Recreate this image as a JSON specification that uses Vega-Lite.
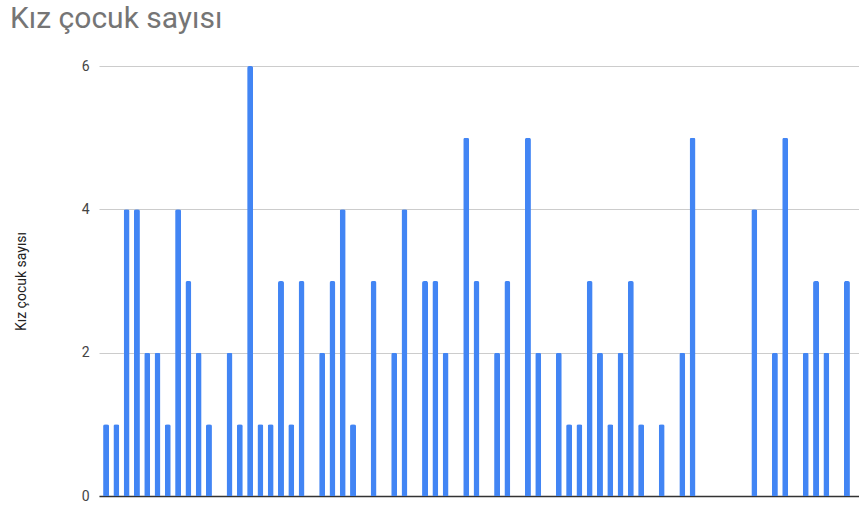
{
  "$schema": "https://vega.github.io/schema/vega-lite/v6.json",
  "width": 760,
  "height": 430,
  "autosize": {"type": "none"},
  "padding": {"left": 99, "top": 66, "right": 0, "bottom": 11},
  "background": "white",
  "title": {
    "text": "Kız çocuk sayısı",
    "anchor": "start",
    "frame": "group",
    "dx": -89,
    "offset": 1,
    "baseline": "alphabetic",
    "font": "Roboto",
    "fontSize": 30,
    "fontWeight": "normal",
    "color": "#757575"
  },
  "data": {
    "values": [
      {"i": 1, "v": 1}, {"i": 2, "v": 1}, {"i": 3, "v": 4}, {"i": 4, "v": 4}, {"i": 5, "v": 2},
      {"i": 6, "v": 2}, {"i": 7, "v": 1}, {"i": 8, "v": 4}, {"i": 9, "v": 3}, {"i": 10, "v": 2},
      {"i": 11, "v": 1}, {"i": 12, "v": 0}, {"i": 13, "v": 2}, {"i": 14, "v": 1}, {"i": 15, "v": 6},
      {"i": 16, "v": 1}, {"i": 17, "v": 1}, {"i": 18, "v": 3}, {"i": 19, "v": 1}, {"i": 20, "v": 3},
      {"i": 21, "v": 0}, {"i": 22, "v": 2}, {"i": 23, "v": 3}, {"i": 24, "v": 4}, {"i": 25, "v": 1},
      {"i": 26, "v": 0}, {"i": 27, "v": 3}, {"i": 28, "v": 0}, {"i": 29, "v": 2}, {"i": 30, "v": 4},
      {"i": 31, "v": 0}, {"i": 32, "v": 3}, {"i": 33, "v": 3}, {"i": 34, "v": 2}, {"i": 35, "v": 0},
      {"i": 36, "v": 5}, {"i": 37, "v": 3}, {"i": 38, "v": 0}, {"i": 39, "v": 2}, {"i": 40, "v": 3},
      {"i": 41, "v": 0}, {"i": 42, "v": 5}, {"i": 43, "v": 2}, {"i": 44, "v": 0}, {"i": 45, "v": 2},
      {"i": 46, "v": 1}, {"i": 47, "v": 1}, {"i": 48, "v": 3}, {"i": 49, "v": 2}, {"i": 50, "v": 1},
      {"i": 51, "v": 2}, {"i": 52, "v": 3}, {"i": 53, "v": 1}, {"i": 54, "v": 0}, {"i": 55, "v": 1},
      {"i": 56, "v": 0}, {"i": 57, "v": 2}, {"i": 58, "v": 5}, {"i": 59, "v": 0}, {"i": 60, "v": 0},
      {"i": 61, "v": 0}, {"i": 62, "v": 0}, {"i": 63, "v": 0}, {"i": 64, "v": 4}, {"i": 65, "v": 0},
      {"i": 66, "v": 2}, {"i": 67, "v": 5}, {"i": 68, "v": 0}, {"i": 69, "v": 2}, {"i": 70, "v": 3},
      {"i": 71, "v": 2}, {"i": 72, "v": 0}, {"i": 73, "v": 3}
    ]
  },
  "mark": {"type": "bar", "color": "#4285F4", "cornerRadiusTopLeft": 2, "cornerRadiusTopRight": 2},
  "encoding": {
    "x": {
      "field": "i",
      "type": "ordinal",
      "sort": null,
      "scale": {"paddingInner": 0.42, "paddingOuter": 0.64, "align": 0.31},
      "axis": {
        "labels": false,
        "ticks": false,
        "title": null,
        "domainColor": "#333333",
        "domainWidth": 1.5,
        "grid": false
      }
    },
    "y": {
      "field": "v",
      "type": "quantitative",
      "scale": {"domain": [0, 6], "nice": false},
      "axis": {
        "values": [0, 2, 4, 6],
        "title": "Kız çocuk sayısı",
        "titleFont": "Roboto",
        "titleFontSize": 14,
        "titleFontWeight": "normal",
        "titleColor": "#222222",
        "titleX": -78,
        "titleY": 215,
        "titleAngle": -90,
        "titleBaseline": "middle",
        "titleAlign": "center",
        "labelFont": "Roboto",
        "labelFontSize": 14,
        "labelColor": "#444444",
        "labelPadding": 10,
        "ticks": false,
        "domain": false,
        "grid": true,
        "gridColor": "#cccccc",
        "gridWidth": 1
      }
    }
  },
  "config": {"view": {"stroke": null}}
}
